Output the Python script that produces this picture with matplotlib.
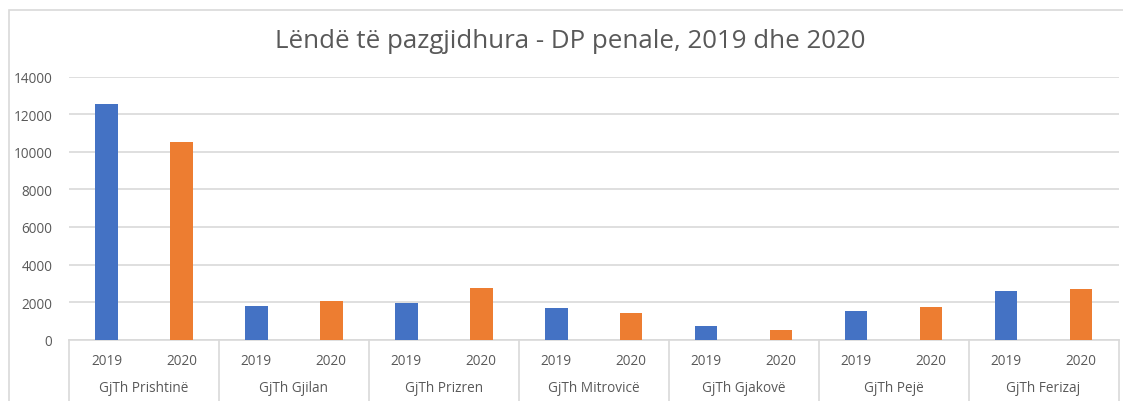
import matplotlib.pyplot as plt
import numpy as np
from matplotlib.patches import Rectangle

# te dhenat
gjykatat = ["GjTh Prishtinë", "GjTh Gjilan", "GjTh Prizren", "GjTh Mitrovicë",
            "GjTh Gjakovë", "GjTh Pejë", "GjTh Ferizaj"]
vitet = ["2019", "2020"]
lende_2019 = [12540, 1770, 1960, 1700, 715, 1520, 2570]
lende_2020 = [10540, 2040, 2730, 1430, 540, 1715, 2680]

blu = "#4472C4"
portokalli = "#ED7D31"
gri_tekst = "#595959"
gri_vije = "#D9D9D9"

plt.rcParams['font.family'] = ['Open Sans', 'DejaVu Sans']

fig = plt.figure(figsize=(11.23, 4.02), dpi=100)
ax = fig.add_axes([69 / 1123, 1 - 340.7 / 402, 1049.5 / 1123, 263 / 402])

n = len(gjykatat)
x1 = np.arange(n) * 2 + 0.5
x2 = np.arange(n) * 2 + 1.5
ax.bar(x1, lende_2019, width=0.3, color=blu, zorder=3)
ax.bar(x2, lende_2020, width=0.3, color=portokalli, zorder=3)

ax.set_xlim(0, 2 * n)
ax.set_ylim(0, 14000)
ax.set_yticks(range(0, 14001, 2000))
ax.grid(axis='y', color=gri_vije, linewidth=1.2, zorder=0)
for s in ["top", "right", "left"]:
    ax.spines[s].set_visible(False)
ax.spines["bottom"].set_color(gri_vije)
ax.spines["bottom"].set_linewidth(1.2)
ax.tick_params(axis='y', length=0, labelsize=9.8, labelcolor=gri_tekst, pad=12)
ax.set_xticks([])

# etiketat e kategorive (dy nivele)
trans = ax.get_xaxis_transform()
for i in range(n):
    ax.text(x1[i], -0.08, vitet[0], transform=trans, ha='center', va='center',
            fontsize=9.8, color=gri_tekst)
    ax.text(x2[i], -0.08, vitet[1], transform=trans, ha='center', va='center',
            fontsize=9.8, color=gri_tekst)
    ax.text(2 * i + 1, -0.18, gjykatat[i], transform=trans, ha='center', va='center',
            fontsize=9.8, color=gri_tekst)
for i in range(n + 1):
    ax.plot([2 * i, 2 * i], [0, -0.24], transform=trans, color=gri_vije,
            linewidth=1.2, clip_on=False)

fig.text(570 / 1123, 1 - 42 / 402, "Lëndë të pazgjidhura - DP penale, 2019 dhe 2020",
         ha='center', va='center', fontsize=18.6, color=gri_tekst)

# korniza e grafikut
fig.patches.append(Rectangle((8.5 / 1123, -0.1), 1.2, 1 - 10.5 / 402 + 0.1,
                             transform=fig.transFigure, fill=False,
                             edgecolor=gri_vije, linewidth=1.2))

fig.savefig("out.png", dpi=100)
